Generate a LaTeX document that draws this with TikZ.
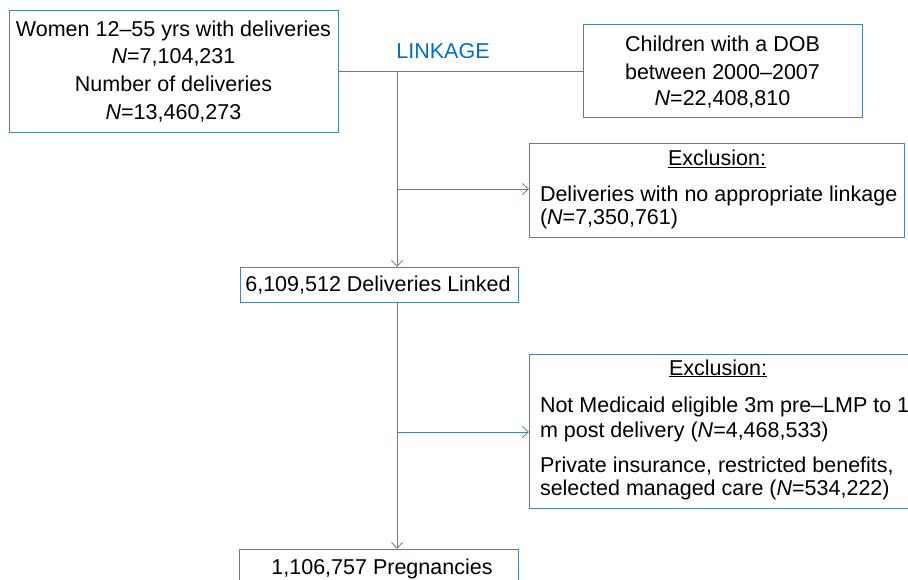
\documentclass[tikz,border=0pt]{standalone}
\usepackage{fontspec}
\setmainfont{Liberation Sans}
\usetikzlibrary{arrows.meta}
\definecolor{boxblue}{RGB}{79,129,189}
\definecolor{linkblue}{RGB}{0,112,192}
\tikzset{
  box/.style={draw=boxblue, line width=0.9pt, inner sep=0pt, outer sep=0pt, rectangle},
  txt/.style={inner sep=0pt, outer sep=0pt, anchor=base, font=\fontsize{21.5}{25}\selectfont},
  ltxt/.style={txt, anchor=base west},
  conn/.style={draw=boxblue, line width=0.9pt},
  arr/.style={conn, -{Straight Barb[length=6pt,width=11pt,line width=0.8pt]}},
}
\begin{document}
\begin{tikzpicture}[x=1pt,y=-1pt]
\useasboundingbox (0,0) rectangle (908,580);
% boxes
\node[box, minimum width=329pt, minimum height=122pt] (women) at (173.5,71) {};
\node[box, minimum width=279pt, minimum height=93pt] (children) at (722.5,71) {};
\node[box, minimum width=375pt, minimum height=94pt] (excl1) at (716.5,190) {};
\node[box, minimum width=278pt, minimum height=35pt] (linked) at (379,284.5) {};
\node[box, minimum width=386pt, minimum height=154pt] (excl2) at (722,431) {};
\node[box, minimum width=279pt, minimum height=46pt] (preg) at (378.5,572) {};
% texts
\node[txt] (w1) at (173.5,37) {Women 12–55 yrs with deliveries};
\node[txt] (w2) at (173.5,64) {\textit{N}=7,104,231};
\node[txt] (w3) at (173.5,92) {Number of deliveries};
\node[txt] (w4) at (173.5,120) {\textit{N}=13,460,273};
\node[txt, text=linkblue] (link) at (443,59) {LINKAGE};
\node[txt] (c1) at (722.5,52) {Children with a DOB};
\node[txt] (c2) at (722.5,80) {between 2000–2007};
\node[txt] (c3) at (722.5,106) {\textit{N}=22,408,810};
\node[txt] (e1t) at (717,166) {\underline{Exclusion:}};
\node[ltxt] (e1a) at (540,202) {Deliveries with no appropriate linkage};
\node[ltxt] (e1b) at (540,225) {(\textit{N}=7,350,761)};
\node[txt] (lt) at (378,291) {6,109,512 Deliveries Linked};
\node[txt] (e2t) at (718,375) {\underline{Exclusion:}};
\node[ltxt] (e2a) at (540,412) {Not Medicaid eligible 3m pre–LMP to 1};
\node[ltxt] (e2b) at (540,437) {m post delivery (\textit{N}=4,468,533)};
\node[ltxt] (e2c) at (540,472) {Private insurance, restricted benefits,};
\node[ltxt] (e2d) at (540,495) {selected managed care (\textit{N}=534,222)};
\node[txt] (pt) at (382,574) {1,106,757 Pregnancies};
% connectors
\coordinate (jt) at (397,71);
\coordinate (b1) at (397,189);
\coordinate (b2) at (397,432);
\draw[conn] (women.east) -- (children.west);
\draw[arr] (jt) -- (jt |- linked.north);
\draw[arr] (b1) -- (b1 -| excl1.west);
\draw[arr] (linked.south -| jt) -- (jt |- preg.north);
\draw[arr] (b2) -- (b2 -| excl2.west);
\end{tikzpicture}
\end{document}
